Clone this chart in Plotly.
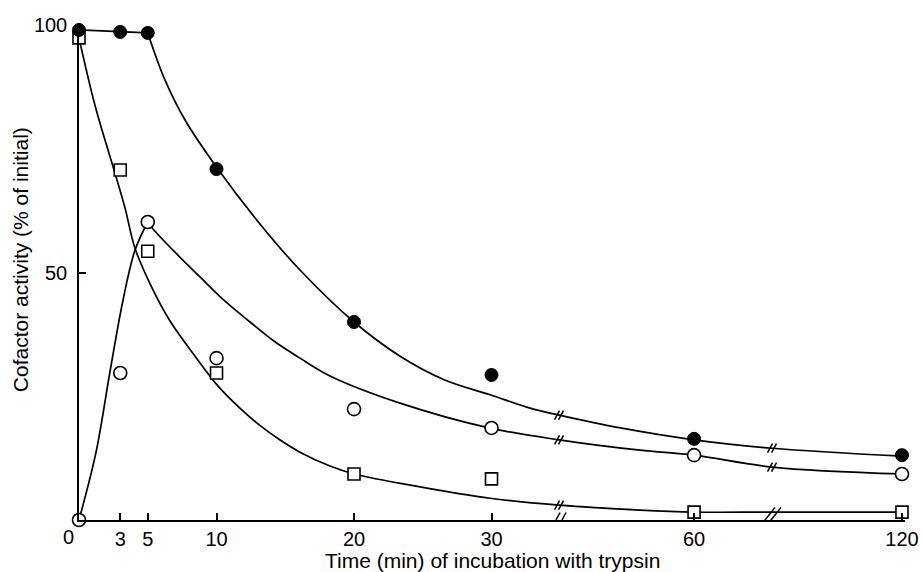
import numpy as np
import plotly.graph_objects as go

# ---- measured data (time in min, activity in % of initial) ----
T_POINTS = [0, 3, 5, 10, 20, 30, 60, 120]
FILLED_VALUES = [99.0, 98.6, 98.4, 70.9, 40.0, 29.3, 16.4, 13.1]
OPEN_VALUES = [0.0, 29.7, 60.2, 32.7, 22.4, 18.6, 13.1, 9.3]
SQUARE_VALUES = [97.4, 70.7, 54.3, 29.7, 9.3, 8.3, 1.6, 1.6]

# ---- hand-drawn fitted curves ----
FILLED_CURVE_T = [0, 5, 6.25, 7.71, 10.1, 13.16, 16.07, 20, 23.35, 26.6, 29.9, 35.7, 40, 49.1, 60, 82.5, 120]
FILLED_CURVE_V = [99.0, 98.4, 88.9, 80.8, 70.9, 59.8, 50.5, 40.0, 33.1, 28.3, 25.3, 22.6, 21.2, 18.6, 16.2, 14.5, 12.9]
FILLED_CORNER = 1  # flat segment ends here

OPEN_CURVE_T = [0, 1.24, 2.25, 3.2, 4.07, 5, 5.38, 6.98, 8.8, 10.62, 12.44, 14.25, 16.07, 18.25, 23.35, 29.82, 40, 52, 60, 82.5, 120]
OPEN_CURVE_V = [0.0, 13.7, 29.9, 44.4, 54.5, 60.2, 58.8, 54.1, 49.1, 44.2, 40.0, 36.0, 32.7, 29.1, 23.6, 18.6, 16.2, 14.1, 13.1, 10.7, 9.3]
OPEN_PEAK = 5  # apex index

SQUARE_CURVE_T = [0, 1.16, 2.55, 3.35, 4.07, 5.31, 6.62, 8.44, 10.1, 11.7, 13.2, 14.6, 16.07, 18.25, 20, 24.8, 29.9, 40, 52, 60, 82.5, 120]
SQUARE_CURVE_V = [97.4, 83.8, 70.7, 63.0, 54.9, 46.9, 40.2, 33.1, 27.1, 22.6, 19.0, 16.2, 13.7, 10.9, 9.3, 6.7, 4.4, 3.0, 2.0, 1.6, 1.6, 1.6]

X_TICK_VALUES = [3, 5, 10, 20, 30, 60, 120]
X_TICK_LABELS = ["3", "5", "10", "20", "30", "60", "120"]
Y_TICK_VALUES = [50, 100]
Y_TICK_LABELS = ["50", "100"]
BREAK_T = [40, 82.5]

# broken time axis: linear to 30 min, then compressed segments
AXIS_T_KNOTS = [0, 30, 60, 120]
AXIS_U_KNOTS = [0, 30, 44.73, 59.85]


def u(t):
    return np.interp(np.asarray(t, dtype=float), AXIS_T_KNOTS, AXIS_U_KNOTS)


FONT = "Liberation Sans, Arial, sans-serif"
LW = 1.7
fig = go.Figure()


def curve(ts, vs, shape):
    fig.add_trace(go.Scatter(x=u(ts), y=vs, mode="lines",
                             line=dict(color="black", width=LW, shape=shape, smoothing=1.0),
                             hoverinfo="skip", showlegend=False))


curve(FILLED_CURVE_T[:FILLED_CORNER + 1], FILLED_CURVE_V[:FILLED_CORNER + 1], "linear")
curve(FILLED_CURVE_T[FILLED_CORNER:], FILLED_CURVE_V[FILLED_CORNER:], "spline")
curve(OPEN_CURVE_T[:OPEN_PEAK + 1], OPEN_CURVE_V[:OPEN_PEAK + 1], "spline")
curve(OPEN_CURVE_T[OPEN_PEAK:], OPEN_CURVE_V[OPEN_PEAK:], "spline")
curve(SQUARE_CURVE_T, SQUARE_CURVE_V, "spline")

fig.add_trace(go.Scatter(x=u(T_POINTS), y=SQUARE_VALUES, mode="markers", cliponaxis=False, showlegend=False,
                         marker=dict(symbol="square", size=12, color="white", line=dict(color="black", width=1.6))))
fig.add_trace(go.Scatter(x=u(T_POINTS), y=OPEN_VALUES, mode="markers", cliponaxis=False, showlegend=False,
                         marker=dict(symbol="circle", size=13, color="white", line=dict(color="black", width=1.6))))
fig.add_trace(go.Scatter(x=u(T_POINTS), y=FILLED_VALUES, mode="markers", cliponaxis=False, showlegend=False,
                         marker=dict(symbol="circle", size=13, color="black", line=dict(color="black", width=1))))

# break marks ("//")
shapes = []


def slash_pair(xa, ya, half_w, half_h, sep, yoff=0):
    for k in (-sep / 2, sep / 2):
        shapes.append(dict(type="line", xref="x", yref="y", xsizemode="pixel", ysizemode="pixel",
                           xanchor=float(xa), yanchor=float(ya),
                           x0=k - half_w, y0=yoff - half_h, x1=k + half_w, y1=yoff + half_h,
                           line=dict(color="black", width=1.5)))


for i, bt in enumerate(BREAK_T):
    bu = float(u(bt))
    if i == 0:
        slash_pair(bu, 0, 4, 7.5, 6)
    else:
        slash_pair(bu, 0, 6, 7.5, 6, yoff=5)
    slash_pair(bu, np.interp(bt, FILLED_CURVE_T, FILLED_CURVE_V), 2.5, 4.5, 4)
    slash_pair(bu, np.interp(bt, OPEN_CURVE_T, OPEN_CURVE_V), 2.5, 4.5, 4)
    if i == 0:
        slash_pair(bu, np.interp(bt, SQUARE_CURVE_T, SQUARE_CURVE_V), 2.5, 4.5, 4)

fig.update_layout(
    width=921, height=572,
    margin=dict(l=79, r=16, t=25, b=52),
    plot_bgcolor="white", paper_bgcolor="white",
    font=dict(family=FONT, color="black", size=20),
    shapes=shapes,
    xaxis=dict(range=[0, float(u(120)) + 0.22], showline=True, linecolor="black", linewidth=1.5,
               showgrid=False, zeroline=False, ticks="inside", ticklen=7, tickwidth=1.5, tickcolor="black",
               tickvals=list(u(X_TICK_VALUES)), ticktext=X_TICK_LABELS, tickfont=dict(size=20),
               ticklabelstandoff=0, automargin=False),
    yaxis=dict(range=[0, 100], showline=True, linecolor="black", linewidth=1.5,
               showgrid=False, zeroline=False, ticks="inside", ticklen=7, tickwidth=1.5, tickcolor="black",
               tickvals=Y_TICK_VALUES, ticktext=Y_TICK_LABELS, tickfont=dict(size=20),
               ticklabelstandoff=6, automargin=False),
    annotations=[
        dict(text="0", xref="x", yref="paper", x=0, y=0, xanchor="center", yanchor="top",
             xshift=-11, yshift=-4, showarrow=False, font=dict(size=20)),
        dict(text="Time (min) of incubation with trypsin", xref="paper", yref="paper", x=0.5, y=0,
             xanchor="center", yanchor="top", yshift=-27, showarrow=False, font=dict(size=21)),
        dict(text="Cofactor activity (% of initial)", xref="paper", yref="paper", x=0, y=0.525,
             xanchor="center", yanchor="middle", xshift=-59, textangle=-90, showarrow=False, font=dict(size=21)),
    ],
)

fig.write_html("out.html", config={"displayModeBar": False},
               post_script="document.body.style.margin='0';document.body.style.padding='0';")
